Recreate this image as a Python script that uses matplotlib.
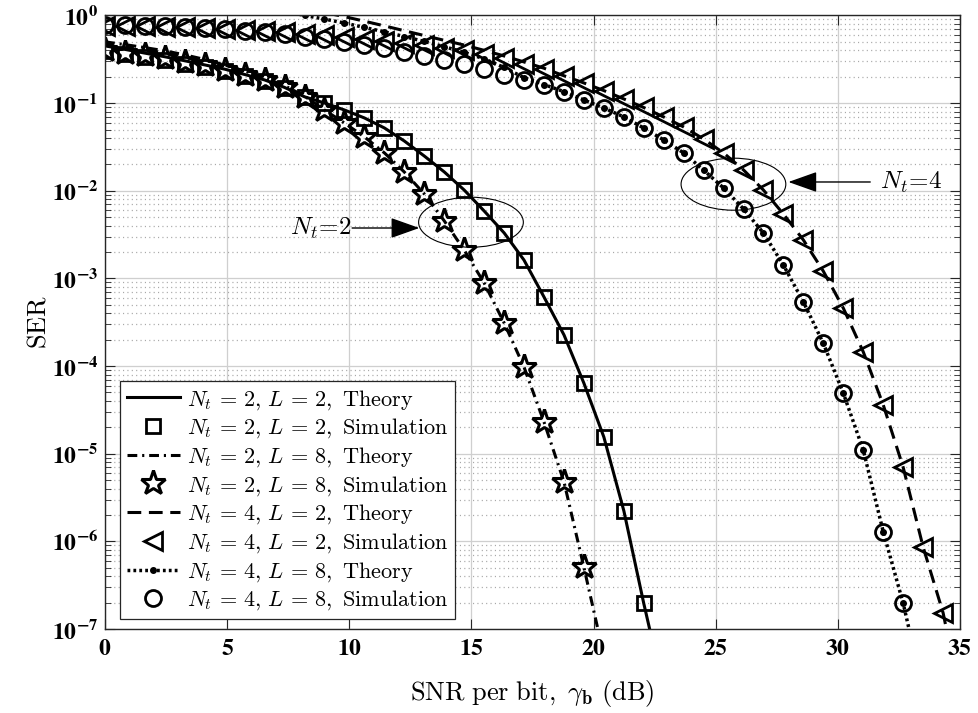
import numpy as np
import matplotlib
matplotlib.use("Agg")
import matplotlib.pyplot as plt
from matplotlib.patches import Ellipse
from matplotlib.ticker import FixedLocator, FuncFormatter, NullFormatter
from matplotlib.font_manager import FontProperties

# ---------------- data ----------------
SNR_DB = [0.00, 0.82, 1.63, 2.45, 3.27, 4.08, 4.90, 5.72, 6.53, 7.35,
          8.17, 8.98, 9.80, 10.62, 11.44, 12.25, 13.07, 13.89, 14.70, 15.52,
          16.34, 17.15, 17.97, 18.79, 19.60, 20.42, 21.24, 22.05, 22.87, 23.69,
          24.50, 25.32, 26.14, 26.95, 27.77, 28.59, 29.40, 30.22, 31.04, 31.86,
          32.67, 33.49, 34.31, 35.12]

# Nt = 2, L = 2
SER_NT2_L2_SIM = [0.3935, 0.364, 0.336, 0.311, 0.283, 0.2585, 0.2327, 0.204, 0.179, 0.1489,
                  0.1175, 0.1004, 0.0835, 0.0677, 0.0520, 0.0370, 0.0249, 0.01638, 0.01021, 0.00588,
                  0.0033, 0.00162, 6.14e-4, 2.26e-4, 6.41e-5, 1.55e-5, 2.22e-6, 1.98e-7]
SER_NT2_L2_THEORY = [0.45, 0.41, 0.372, 0.338, 0.304, 0.273, 0.244, 0.212, 0.184, 0.151,
                     0.118, 0.1004, 0.0835, 0.0677, 0.0520, 0.0370, 0.0249, 0.01638, 0.01021, 0.00588,
                     0.0033, 0.00162, 6.14e-4, 2.26e-4, 6.41e-5, 1.55e-5, 2.22e-6, 1.98e-7, 2.0e-8]
# Nt = 2, L = 8
SER_NT2_L8_SIM = [0.404, 0.378, 0.350, 0.327, 0.295, 0.272, 0.239, 0.2095, 0.1837, 0.1528,
                  0.1175, 0.0835, 0.0593, 0.0411, 0.0270, 0.01638, 0.00919, 0.00452, 0.00211, 8.87e-4,
                  3.10e-4, 9.76e-5, 2.30e-5, 4.75e-6, 5.10e-7]
SER_NT2_L8_THEORY = [0.50, 0.465, 0.43, 0.395, 0.355, 0.315, 0.272, 0.232, 0.195, 0.158,
                     0.120, 0.0835, 0.0593, 0.0411, 0.0270, 0.01638, 0.00919, 0.00452, 0.00211, 8.87e-4,
                     3.10e-4, 9.76e-5, 2.30e-5, 4.75e-6, 5.10e-7, 5.0e-8]
# Nt = 4, L = 2
SER_NT4_L2_SIM = [0.765, 0.759, 0.749, 0.739, 0.730, 0.714, 0.701, 0.683, 0.665, 0.643,
                  0.620, 0.599, 0.573, 0.546, 0.518, 0.486, 0.455, 0.426, 0.399, 0.364,
                  0.323, 0.283, 0.245, 0.204, 0.170, 0.139, 0.1115, 0.0892, 0.0695, 0.0534,
                  0.0390, 0.0270, 0.01726, 0.01021, 0.00543, 0.00274, 0.001215, 4.60e-4, 1.45e-4, 3.59e-5,
                  7.05e-6, 8.62e-7, 1.52e-7]
NT4_L2_THEORY_START = 10
SER_NT4_L2_THEORY = [1.2, 1.08, 0.97, 0.86, 0.76, 0.67, 0.59, 0.52, 0.46, 0.40,
                     0.345, 0.295, 0.25, 0.205, 0.170, 0.139, 0.1115, 0.0892, 0.0695, 0.0534,
                     0.0390, 0.0270, 0.01726, 0.01021, 0.00543, 0.00274, 0.001215, 4.60e-4, 1.45e-4, 3.59e-5,
                     7.05e-6, 8.62e-7, 1.52e-7, 1.2e-8]
# Nt = 4, L = 8
SER_NT4_L8_SIM = [0.779, 0.769, 0.759, 0.749, 0.730, 0.711, 0.692, 0.665, 0.640, 0.607,
                  0.568, 0.532, 0.498, 0.461, 0.426, 0.386, 0.348, 0.311, 0.277, 0.248,
                  0.2095, 0.1837, 0.161, 0.135, 0.1086, 0.0880, 0.0695, 0.0520, 0.0380, 0.0270,
                  0.01726, 0.01076, 0.00619, 0.0033, 0.00142, 5.38e-4, 1.83e-4, 4.93e-5, 1.10e-5, 1.28e-6,
                  1.98e-7]
NT4_L8_THEORY_START = 8
SER_NT4_L8_THEORY = [1.25, 1.12, 1.0, 0.91, 0.82, 0.73, 0.65, 0.575, 0.505, 0.44,
                     0.38, 0.32, 0.255, 0.195, 0.163, 0.135, 0.1086, 0.0880, 0.0695, 0.0520,
                     0.0380, 0.0270, 0.01726, 0.01076, 0.00619, 0.0033, 0.00142, 5.38e-4, 1.83e-4, 4.93e-5,
                     1.10e-5, 1.28e-6, 1.98e-7, 2.0e-8]

LABELS = [r'$N_t\,=\,2,\,L\,=\,2,\ \mathrm{Theory}$',
          r'$N_t\,=\,2,\,L\,=\,2,\ \mathrm{Simulation}$',
          r'$N_t\,=\,2,\,L\,=\,8,\ \mathrm{Theory}$',
          r'$N_t\,=\,2,\,L\,=\,8,\ \mathrm{Simulation}$',
          r'$N_t\,=\,4,\,L\,=\,2,\ \mathrm{Theory}$',
          r'$N_t\,=\,4,\,L\,=\,2,\ \mathrm{Simulation}$',
          r'$N_t\,=\,4,\,L\,=\,8,\ \mathrm{Theory}$',
          r'$N_t\,=\,4,\,L\,=\,8,\ \mathrm{Simulation}$']
X_TICKS = [0, 5, 10, 15, 20, 25, 30, 35]
Y_TICK_EXPONENTS = [0, -1, -2, -3, -4, -5, -6, -7]

# ---------------- plotting ----------------
plt.rcParams['mathtext.fontset'] = 'stix'
plt.rcParams['font.family'] = ['Liberation Serif', 'DejaVu Serif']

fig = plt.figure(figsize=(9.79, 7.13), dpi=100)
ax = fig.add_axes([0.1073, 0.1178, 0.8733, 0.8605])
ax.set_yscale('log')

def xs(series, start=0):
    return SNR_DB[start:start + len(series)]

LW = 2.2
MEW = 2.0
ax.plot(xs(SER_NT2_L2_THEORY), SER_NT2_L2_THEORY, color='k', lw=LW, ls='-', label=LABELS[0])
ax.plot(xs(SER_NT2_L2_SIM), SER_NT2_L2_SIM, ls='none', marker='s', ms=10.5, mew=MEW,
        mfc='none', mec='k', label=LABELS[1])
ax.plot(xs(SER_NT2_L8_THEORY), SER_NT2_L8_THEORY, color='k', lw=LW,
        dashes=(3.2, 1.6, 0.7, 1.6), label=LABELS[2])
ax.plot(xs(SER_NT2_L8_SIM), SER_NT2_L8_SIM, ls='none', marker='*', ms=18.5, mew=MEW + 0.2,
        mfc='none', mec='k', label=LABELS[3])
ax.plot(xs(SER_NT4_L2_THEORY, NT4_L2_THEORY_START), SER_NT4_L2_THEORY, color='k', lw=LW,
        dashes=(4.5, 2.5), label=LABELS[4])
ax.plot(xs(SER_NT4_L2_SIM), SER_NT4_L2_SIM, ls='none', marker='<', ms=13, mew=MEW,
        mfc='none', mec='k', label=LABELS[5])
ax.plot(xs(SER_NT4_L8_THEORY, NT4_L8_THEORY_START), SER_NT4_L8_THEORY, color='k', lw=LW + 0.3,
        dashes=(0.8, 0.9), marker='.', ms=8, label=LABELS[6])
ax.plot(xs(SER_NT4_L8_SIM), SER_NT4_L8_SIM, ls='none', marker='o', ms=11.5, mew=MEW,
        mfc='none', mec='k', label=LABELS[7])

ax.set_xlim(0, 35)
ax.set_ylim(1e-7, 1)

ax.xaxis.set_major_locator(FixedLocator(X_TICKS))
ax.xaxis.set_major_formatter(FuncFormatter(lambda v, p: r'$\mathbf{%d}$' % int(round(v))))
ax.yaxis.set_major_locator(FixedLocator([10.0 ** e for e in Y_TICK_EXPONENTS]))
ax.yaxis.set_major_formatter(FuncFormatter(
    lambda v, p: r'$\mathbf{10^{%d}}$' % int(round(np.log10(v)))))
minor = [m * 10.0 ** e for e in range(-7, 0) for m in range(2, 10)]
ax.yaxis.set_minor_locator(FixedLocator(minor))
ax.yaxis.set_minor_formatter(NullFormatter())

ax.tick_params(which='both', direction='in', top=True, right=True, colors='#262626',
               labelsize=17, labelcolor='k')
ax.tick_params(which='major', length=7, width=0.8)
ax.tick_params(which='minor', length=4, width=0.6)
ax.tick_params(axis='x', pad=7)
ax.tick_params(axis='y', pad=5)

ax.grid(True, which='major', color='#cfcfcf', lw=0.9, ls='-')
ax.yaxis.grid(True, which='minor', color='#a8a8a8', lw=0.9, ls=(0, (0.9, 2.6)))
ax.set_axisbelow(True)
for s in ax.spines.values():
    s.set_color('#262626')
    s.set_linewidth(1.0)

ax.set_xlabel(r'$\mathrm{SNR\ per\ bit,}\ \gamma_{\mathbf{b}}\ \mathrm{(dB)}$',
              fontsize=19, math_fontfamily='cm', labelpad=13)
ax.set_ylabel(r'$\mathrm{SER}$', fontsize=19, math_fontfamily='cm')
ax.yaxis.set_label_coords(-0.064, 0.5)

leg = ax.legend(loc='lower left', bbox_to_anchor=(0.0175, 0.0163), borderaxespad=0,
                prop=FontProperties(size=16, math_fontfamily='cm'),
                fancybox=False, framealpha=1, edgecolor='#262626',
                handlelength=2.4, handletextpad=0.3, labelspacing=0.22,
                borderpad=0.3, numpoints=1)
leg.get_frame().set_linewidth(0.9)

# annotations
ax.add_patch(Ellipse((0.428, 0.663), 0.1225, 0.0815, transform=ax.transAxes,
                     fill=False, ec='k', lw=0.8))
ax.add_patch(Ellipse((0.735, 0.725), 0.1225, 0.0848, transform=ax.transAxes,
                     fill=False, ec='k', lw=0.8))
arrow = dict(arrowstyle='-|>,head_length=0.9,head_width=0.32', color='k', lw=1.0,
             mutation_scale=20, shrinkA=0, shrinkB=0)
ax.annotate('', xy=(0.3676, 0.6536), xytext=(0.289, 0.6536),
            xycoords='axes fraction', textcoords='axes fraction', arrowprops=arrow)
ax.text(0.289, 0.6536, r'$N_t\!=\!2$', transform=ax.transAxes, ha='right', va='center',
        fontsize=18, math_fontfamily='cm')
ax.annotate('', xy=(0.7993, 0.7286), xytext=(0.895, 0.7286),
            xycoords='axes fraction', textcoords='axes fraction', arrowprops=arrow)
ax.text(0.906, 0.7286, r'$N_t\!=\!4$', transform=ax.transAxes, ha='left', va='center',
        fontsize=18, math_fontfamily='cm')

fig.savefig('out.png', dpi=100)
